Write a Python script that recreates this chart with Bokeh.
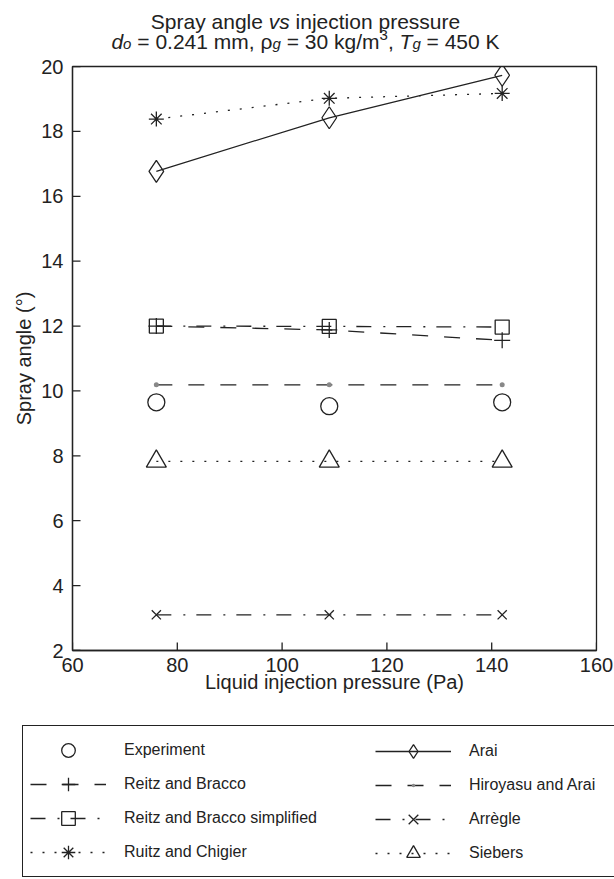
import math
from bokeh.plotting import figure
from bokeh.models import Range1d, FixedTicker, Legend, LegendItem, Label
from bokeh.embed import file_html
from bokeh.resources import INLINE

# ---------------- data ----------------
pressure = [76, 109, 142]
experiment = [9.65, 9.53, 9.65]
arai = [16.77, 18.42, 19.73]
reitz_bracco = [12.0, 11.88, 11.56]
hiroyasu_arai = [10.19, 10.19, 10.19]
reitz_bracco_simplified = [12.0, 11.99, 11.97]
arregle = [3.1, 3.1, 3.1]
ruitz_chigier = [18.38, 19.02, 19.17]
siebers = [7.83, 7.83, 7.83]

x_ticks = [60, 80, 100, 120, 140, 160]
y_ticks = [2, 4, 6, 8, 10, 12, 14, 16, 18, 20]

INK = "#222222"
FONT = "Liberation Sans"
W = 614
TITLE_H = 54          # title strip height
MAIN_H = 720 - TITLE_H
LEG_H = 879 - 720
FL, FR = 72, 596      # frame left/right (canvas px)
FRAME_TOP = 66 - TITLE_H
FRAME_H = 584

LW = 1.3
DASH = "16 16"
DASHDOT = "15 12 2 11"
DOT = "2 10"

# style of each series: (marker, size, line_dash or None, marker colour)
STYLE = {
    "Experiment": ("circle", 17, None, INK),
    "Arai": ("diamond", 22, "solid", INK),
    "Reitz and Bracco": ("cross", 16, DASH, INK),
    "Hiroyasu and Arai": ("dot", 20, DASH, "#888888"),
    "Reitz and Bracco simplified": ("square", 14, DASHDOT, INK),
    "Arrègle": ("x", 13, DASHDOT, INK),
    "Ruitz and Chigier": ("asterisk", 15, DOT, INK),
    "Siebers": ("triangle", 20, DOT, INK),
}
SERIES = {
    "Experiment": experiment,
    "Arai": arai,
    "Reitz and Bracco": reitz_bracco,
    "Hiroyasu and Arai": hiroyasu_arai,
    "Reitz and Bracco simplified": reitz_bracco_simplified,
    "Arrègle": arregle,
    "Ruitz and Chigier": ruitz_chigier,
    "Siebers": siebers,
}


def draw_series(fig, name):
    marker, size, dash, mcol = STYLE[name]
    ys = SERIES[name]
    rs = []
    if dash is not None:
        rs.append(fig.line(pressure, ys, line_color=INK, line_width=LW, line_dash=dash))
    rs.append(fig.scatter(pressure, ys, marker=marker, size=size, line_color=mcol,
                          line_width=LW, fill_color=(mcol if marker == "dot" else None)))
    return rs


# ---------------- main chart ----------------
p = figure(width=W, height=MAIN_H, output_backend="svg", toolbar_location=None,
           x_range=Range1d(60, 160), y_range=Range1d(2, 20),
           min_border_left=FL, min_border_right=W - FR,
           min_border_top=FRAME_TOP, min_border_bottom=MAIN_H - FRAME_TOP - FRAME_H)
p.grid.visible = False
p.outline_line_color = INK
p.outline_line_width = LW
p.outline_line_alpha = 1.0
p.background_fill_color = "white"
p.border_fill_color = "white"

for ax in (p.xaxis[0], p.yaxis[0]):
    ax.axis_line_color = INK
    ax.axis_line_width = LW
    ax.major_tick_in = 0
    ax.major_tick_out = 0
    ax.major_tick_line_color = None
    ax.minor_tick_line_color = None
    ax.major_label_text_font = FONT
    ax.major_label_text_font_size = "20px"
    ax.major_label_text_color = INK
    ax.axis_label_text_font = FONT
    ax.axis_label_text_font_size = "20px"
    ax.axis_label_text_font_style = "normal"
    ax.axis_label_text_color = INK

p.xaxis.ticker = FixedTicker(ticks=x_ticks)
p.yaxis.ticker = FixedTicker(ticks=y_ticks)
p.xaxis.axis_label = "Liquid injection pressure (Pa)"
p.yaxis.axis_label = "Spray angle (°)"
p.xaxis.major_label_standoff = 7
p.yaxis.major_label_standoff = 9
p.xaxis.axis_label_standoff = -4
p.yaxis.axis_label_standoff = 3

# inward tick marks (half of each dash is clipped by the frame)
p.scatter([60] * len(y_ticks), y_ticks, marker="dash", size=16, line_color=INK, line_width=LW)
p.scatter(x_ticks, [2] * len(x_ticks), marker="dash", angle=math.pi / 2, size=16,
          line_color=INK, line_width=LW)

for name in SERIES:
    draw_series(p, name)

# ---------------- title strip ----------------
t = figure(width=W, height=TITLE_H, output_backend="svg", toolbar_location=None,
           x_range=Range1d(0, W), y_range=Range1d(0, TITLE_H),
           x_axis_type=None, y_axis_type=None, min_border=0)
t.grid.visible = False
t.outline_line_color = None

WID = {' ': 278, 'a': 556, 'c': 500, 'd': 556, 'e': 556, 'g': 556, 'i': 222, 'j': 222,
       'k': 500, 'l': 222, 'm': 833, 'n': 556, 'o': 556, 'p': 556, 'r': 333, 's': 500,
       't': 278, 'u': 556, 'v': 500, 'y': 500, 'S': 667, 'T': 611, 'K': 667,
       '=': 584, '.': 278, ',': 278, '/': 278, 'ρ': 578}


def tw(s, size):
    return sum(WID.get(ch, 556) for ch in s) * size / 1000.0


def rich_line(pieces, center_x, baseline_y, size):
    small = round(size * 0.72)
    total = sum(tw(txt, small if pos else size) for txt, style, pos in pieces)
    x = center_x - total / 2
    for txt, style, pos in pieces:
        fs = small if pos else size
        dy = {"": 0, "sub": 2, "sup": -7}[pos]
        lead = len(txt) - len(txt.lstrip(" "))
        shown = txt.strip(" ")
        if shown:
            t.add_layout(Label(x=x + tw(" " * lead, fs), y=TITLE_H - (baseline_y + dy),
                               x_units="screen", y_units="screen",
                               text=shown, text_font=FONT, text_font_size=f"{fs}px",
                               text_font_style=style, text_color=INK,
                               text_align="left", text_baseline="alphabetic"))
        x += tw(txt, fs)


TS = 21
rich_line([("Spray angle ", "normal", ""), ("vs", "italic", ""),
           (" injection pressure", "normal", "")], 305, 21, TS)
rich_line([("d", "italic", ""), ("o", "italic", "sub"),
           (" = 0.241 mm, ρ", "normal", ""), ("g", "italic", "sub"),
           (" = 30 kg/m", "normal", ""), ("3", "normal", "sup"),
           (", ", "normal", ""), ("T", "italic", ""), ("g", "italic", "sub"),
           (" = 450 K", "normal", "")], 305, 41, TS)

# ---------------- legend strip ----------------
lf = figure(width=W, height=LEG_H, output_backend="svg", toolbar_location=None,
            x_range=Range1d(0, 1), y_range=Range1d(0, 1),
            x_axis_type=None, y_axis_type=None, min_border=0)
lf.grid.visible = False
lf.outline_line_color = None

# legend proxies: same series, lying outside this strip's ranges (not visible)
proxy = {name: draw_series(lf, name) for name in SERIES}

left_names = ["Experiment", "Reitz and Bracco", "Reitz and Bracco simplified", "Ruitz and Chigier"]
right_names = ["Arai", "Hiroyasu and Arai", "Arrègle", "Siebers"]

GW, GH, SP, PAD, STAND = 76, 34, 0, 7, 18
common = dict(orientation="vertical", glyph_width=GW, glyph_height=GH, spacing=SP,
              padding=PAD, margin=0, label_standoff=STAND,
              label_text_font=FONT, label_text_font_size="16px", label_text_color=INK)
box_top = 727 - 720
box_h = 2 * PAD + 4 * GH + 3 * SP
box_left, box_right = 22, 613
vy = LEG_H - (box_top + box_h)

leg_left = Legend(items=[LegendItem(label=n, renderers=proxy[n]) for n in left_names],
                  location=(box_left, vy),
                  label_width=(box_right - box_left) - 2 * PAD - GW - STAND,
                  border_line_color=INK, border_line_width=LW, border_line_alpha=1.0,
                  background_fill_color="white", background_fill_alpha=1.0, **common)
leg_right = Legend(items=[LegendItem(label=n, renderers=proxy[n]) for n in right_names],
                   location=(368, vy),
                   border_line_alpha=0.0, background_fill_alpha=0.0, **common)
lf.add_layout(leg_left)
lf.add_layout(leg_right)

open("out.html", "w").write(file_html([t, p, lf], INLINE))
